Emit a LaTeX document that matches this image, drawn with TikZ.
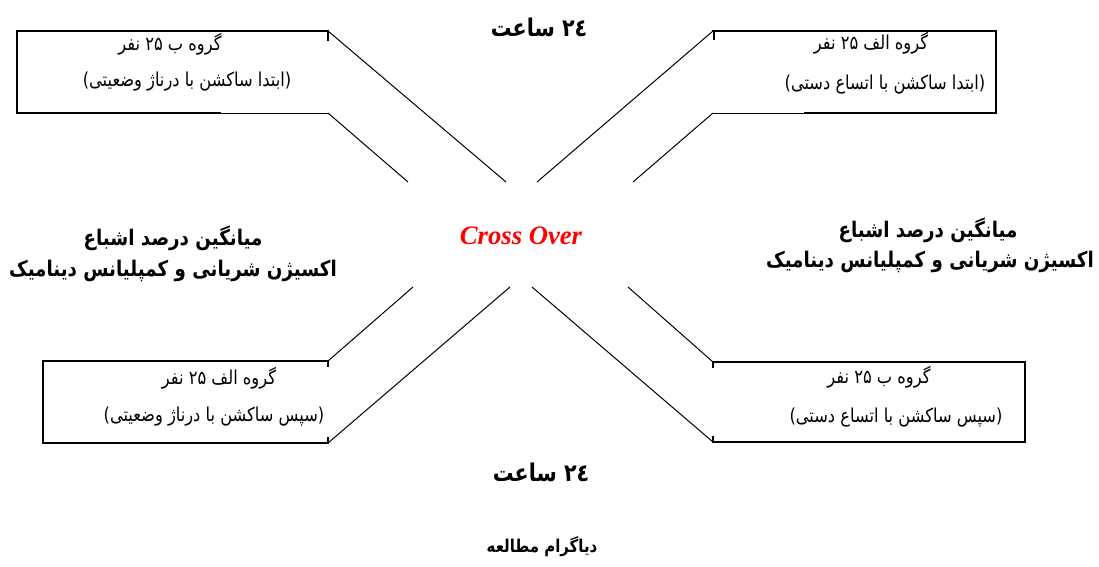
\documentclass[tikz,border=0pt]{standalone}
\usepackage{fontspec}
\setmainfont{Liberation Serif}
\newfontfamily\fa[Script=Arabic]{DejaVu Sans}
\TeXXeTstate=1
\newcommand{\rtl}[1]{\scalebox{1}[1.18]{\beginR #1\endR}}
\begin{document}
\begin{tikzpicture}[x=0.75pt,y=-0.75pt,
  thick border/.style={line width=1.5pt,line cap=rect},
  thin line/.style={line width=0.75pt},
  boxtext/.style={font=\fa\fontsize{12.2}{14}\selectfont,inner sep=0pt},
  headtext/.style={font=\fa\bfseries\fontsize{13.7}{15}\selectfont,inner sep=0pt},
  hourtext/.style={font=\fa\bfseries\fontsize{15.5}{17}\selectfont,inner sep=0pt},
  captext/.style={font=\fa\bfseries\fontsize{11.2}{13}\selectfont,inner sep=0pt},
  crosstext/.style={font=\bfseries\itshape\fontsize{20}{24}\selectfont,text=red,inner sep=0pt}]
\useasboundingbox (0,0) rectangle (1099,567);
% ---- top-left callout
\coordinate (tlA) at (17,31);
\coordinate (tlB) at (328,31);
\coordinate (tlC) at (328,113);
\coordinate (tlD) at (17,113);
\coordinate (tlE) at (220,113);
\coordinate (tlP) at (506,182);
\coordinate (tlQ) at (408,182);
\draw[thick border] (tlE) -- (tlD) -- (tlA) -- (tlB) -- ++(0,9);
\draw[thin line] (tlE) -- (tlC);
\draw[thin line] (tlB) -- (tlP);
\draw[thin line] (tlC) -- (tlQ);
% ---- top-right callout
\coordinate (trA) at (996,31);
\coordinate (trB) at (713,31);
\coordinate (trC) at (713,113);
\coordinate (trD) at (996,113);
\coordinate (trE) at (805,113);
\coordinate (trP) at (537,182);
\coordinate (trQ) at (633,182);
\draw[thick border] (trE) -- (trD) -- (trA) -- (trB);
\draw[thin line] (trE) -- (trC);
\draw[line width=0.4pt] (trB) ++(0,0) -- ++(0,9) (trB) ++(1.5,0) -- ++(0,9);
\draw[thin line] (trB) -- (trP);
\draw[thin line] (trC) -- (trQ);
% ---- bottom-left callout
\coordinate (blA) at (43,361);
\coordinate (blB) at (328,361);
\coordinate (blC) at (328,443);
\coordinate (blD) at (43,443);
\coordinate (blP) at (413,287);
\coordinate (blQ) at (510,287);
\draw[thick border] (blB) ++(0,5) -- (blB) -- (blA) -- (blD) -- (blC) -- ++(0,-5);
\draw[thin line] (blB) -- (blP);
\draw[thin line] (blC) -- (blQ);
% ---- bottom-right callout
\coordinate (brA) at (1025,362);
\coordinate (brB) at (713,362);
\coordinate (brC) at (713,442);
\coordinate (brD) at (1025,442);
\coordinate (brP) at (628,287);
\coordinate (brQ) at (532,287);
\draw[thick border] (brB) ++(0,5) -- (brB) -- (brA) -- (brD) -- (brC) -- ++(0,-5);
\draw[thin line] (brB) -- (brP);
\draw[thin line] (brC) -- (brQ);
% ---- texts
\node[boxtext] (tl1) at (170,44) {\rtl{گروه ب ۲۵ نفر}};
\node[boxtext] (tl2) at (187,82) {\rtl{(ابتدا ساکشن با درناژ وضعیتی)}};
\node[boxtext] (tr1) at (871,43) {\rtl{گروه الف ۲۵ نفر}};
\node[boxtext] (tr2) at (885,85) {\rtl{(ابتدا ساکشن با اتساع دستی)}};
\node[boxtext] (bl1) at (219,378) {\rtl{گروه الف ۲۵ نفر}};
\node[boxtext] (bl2) at (214,417) {\rtl{(سپس ساکشن با درناژ وضعیتی)}};
\node[boxtext] (br1) at (879,377) {\rtl{گروه ب ۲۵ نفر}};
\node[boxtext] (br2) at (896,418) {\rtl{(سپس ساکشن با اتساع دستی)}};
\node[headtext] (lh1) at (173,238) {\rtl{میانگین درصد اشباع}};
\node[headtext] (lh2) at (173,271) {\rtl{اکسیژن شریانی و کمپلیانس دینامیک}};
\node[headtext] (rh1) at (928,230) {\rtl{میانگین درصد اشباع}};
\node[headtext] (rh2) at (930,262) {\rtl{اکسیژن شریانی و کمپلیانس دینامیک}};
\node[hourtext] (t24) at (539,27) {\rtl{۲٤ ساعت}};
\node[hourtext] (b24) at (541,472) {\rtl{۲٤ ساعت}};
\node[captext] (cap) at (542,547) {\rtl{دیاگرام مطالعه}};
\node[crosstext] (co) at (521,236) {Cross Over};
\end{tikzpicture}
\end{document}
